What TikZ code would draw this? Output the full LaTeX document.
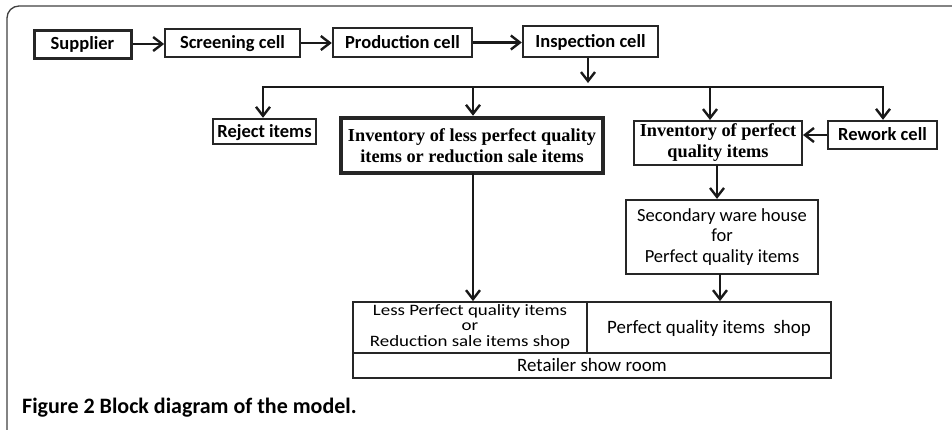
\documentclass[tikz,border=0pt]{standalone}
\usepackage{fontspec}
\usetikzlibrary{arrows.meta}
\newfontfamily\calfont{Carlito}
\newfontfamily\tnrfont{Liberation Serif}
\begin{document}
\begin{tikzpicture}[x=1pt,y=-1pt,
  box/.style={draw=black!85, rectangle, inner sep=0pt, align=center},
  topbox/.style={box, font=\calfont\bfseries\fontsize{18.5}{20}\selectfont, text height=11.9pt, text depth=0pt},
  serbox/.style={box, font=\tnrfont\bfseries\fontsize{18.3}{21}\selectfont},
  regbox/.style={box, font=\calfont\fontsize{18.5}{20.5}\selectfont},
  shopbox/.style={box, line width=1.8pt, font=\calfont\fontsize{18.9}{18}\selectfont},
  oneline/.style={text height=12pt, text depth=0pt},
  arr/.style={draw=black!90, line width=2.4pt, -{Straight Barb[length=9pt,width=14pt,line width=2.4pt]}},
  busline/.style={draw=black!90, line width=2.4pt}]
\useasboundingbox (0,0) rectangle (952,429);
\begin{scope}
\clip (0,0) rectangle (952,429);
\draw[black!75, line width=1.3pt, rounded corners=12pt] (7,460) -- (7,6) -- (980,6);
\end{scope}

% top row
\node[topbox, line width=3pt, minimum width=97pt, minimum height=28pt] (sup) at (82.5,44) {Supplier};
\node[topbox, line width=1.8pt, minimum width=135pt, minimum height=28pt] (scr) at (232.5,43) {Screening cell};
\node[topbox, line width=2.4pt, minimum width=139pt, minimum height=29pt] (prod) at (402.5,42.5) {Production cell};
\node[topbox, line width=2.4pt, minimum width=135pt, minimum height=31pt] (insp) at (590.5,41.5) {Inspection cell};

\draw[arr] (sup.east) -- (sup.east -| scr.west);
\draw[arr] (scr.east) -- (scr.east -| prod.west);
\draw[arr] (prod.east) -- (prod.east -| insp.west);

% second row
\node[topbox, line width=2.4pt, minimum width=103pt, minimum height=25pt] (rej) at (264.5,131.5) {Reject items};
\node[serbox, line width=4.5pt, minimum width=262pt, minimum height=55pt] (lessinv) at (472,145.5) {Inventory of less perfect quality\\items or reduction sale items};
\node[serbox, line width=2pt, minimum width=168pt, minimum height=44pt] (invp) at (718,143) {Inventory of perfect\\quality items};
\node[topbox, line width=2.4pt, minimum width=109pt, minimum height=28pt] (rew) at (882.5,135) {Rework cell};

% bus
\coordinate (bT) at (588,83);
\coordinate (bL) at (263,87);
\coordinate (bR) at (883,87);
\coordinate (bA) at (473,87);
\coordinate (bB) at (710,87);
\draw[arr] (insp.south -| bT) -- (bT);
\draw[busline] ([xshift=-1.2pt]bL) -- ([xshift=1.2pt]bR);
\draw[arr] (bL) -- (bL |- rej.north);
\draw[arr] (bA) -- (bA |- lessinv.north);
\draw[arr] (bB) -- (bB |- invp.north);
\draw[arr] (bR) -- (bR |- rew.north);
\draw[arr] (rew.west) -- (rew.west -| invp.east);

% secondary
\node[regbox, line width=2.2pt, minimum width=192pt, minimum height=74pt] (sec) at (722,237) {Secondary ware house\\for\\Perfect quality items};
\coordinate (sA) at (717,165);
\draw[arr] (sA) -- (sA |- sec.north);

% bottom shops
\node[shopbox, minimum width=234pt, minimum height=51pt] (lshop) at (470,327.5) {\scalebox{1}[0.84]{\begin{tabular}{@{}c@{}}Less Perfect quality items\\or\\Reduction sale items shop\end{tabular}}};
\node[shopbox, oneline, minimum width=244pt, minimum height=51pt] (pshop) at (709,327.5) {Perfect quality items\ \ shop};
\node[shopbox, oneline, minimum width=478pt, minimum height=25pt] (ret) at (592,365.5) {Retailer show room};

\coordinate (lA) at (473,173);
\draw[arr] (lA) -- (lA |- lshop.north);
\coordinate (pA) at (720,274);
\draw[arr] (pA) -- (pA |- pshop.north);

% caption
\node[anchor=base west, inner sep=0pt, font=\calfont\bfseries\fontsize{22}{24}\selectfont] (cap) at (22,413) {Figure 2 Block diagram of the model.};
\end{tikzpicture}
\end{document}
